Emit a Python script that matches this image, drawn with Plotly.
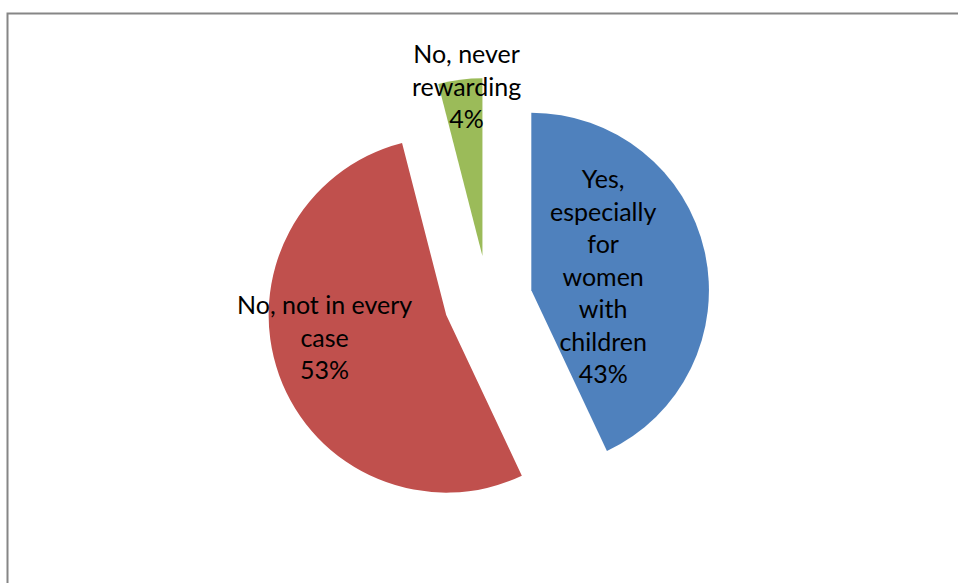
import plotly.graph_objects as go

# Survey answers and their shares (percent)
answers = [
    "Yes, especially for women with children",
    "No, not in every case",
    "No, never rewarding",
]
shares = [43, 53, 4]

# How each answer label is broken into lines
label_lines = [
    ["Yes,", "especially", "for", "women", "with", "children"],
    ["No, not in every", "case"],
    ["No, never", "rewarding"],
]

colors = ["#4F81BD", "#C0504D", "#9BBB59"]

W, H = 958, 583

# Label anchor points in pixels (x from left, y from top)
label_px = [(603, 275), (324, 336), (466, 85)]

fig = go.Figure(
    go.Pie(
        labels=answers,
        values=shares,
        sort=False,
        direction="clockwise",
        rotation=0,
        pull=[0.25, 0.25, 0.25],
        marker=dict(colors=colors, line=dict(width=0)),
        textinfo="none",
        hoverinfo="label+percent",
        showlegend=False,
        domain=dict(x=[266 / W, 710 / W], y=[1 - 522 / H, 1 - 78 / H]),
    )
)

total = sum(shares)
annotations = []
for lines, v, (px, py) in zip(label_lines, shares, label_px):
    pct = round(100 * v / total)
    text = "<br>".join(lines + [f"{pct}%"])
    annotations.append(
        dict(
            x=px / W,
            y=1 - py / H,
            xref="paper",
            yref="paper",
            xanchor="center",
            yanchor="middle",
            align="center",
            text=text,
            showarrow=False,
            font=dict(family="Lato, Calibri, sans-serif", size=25, color="#000000"),
        )
    )

fig.update_layout(
    width=W,
    height=H,
    margin=dict(l=0, r=0, t=0, b=0),
    paper_bgcolor="#FFFFFF",
    plot_bgcolor="#FFFFFF",
    annotations=annotations,
    shapes=[
        dict(
            type="rect",
            xref="paper",
            yref="paper",
            x0=7.5 / W,
            x1=1.2,
            y0=-0.2,
            y1=1 - 13.5 / H,
            line=dict(color="#868686", width=2),
            fillcolor="rgba(0,0,0,0)",
            layer="below",
        )
    ],
)

fig.write_html("out.html")
